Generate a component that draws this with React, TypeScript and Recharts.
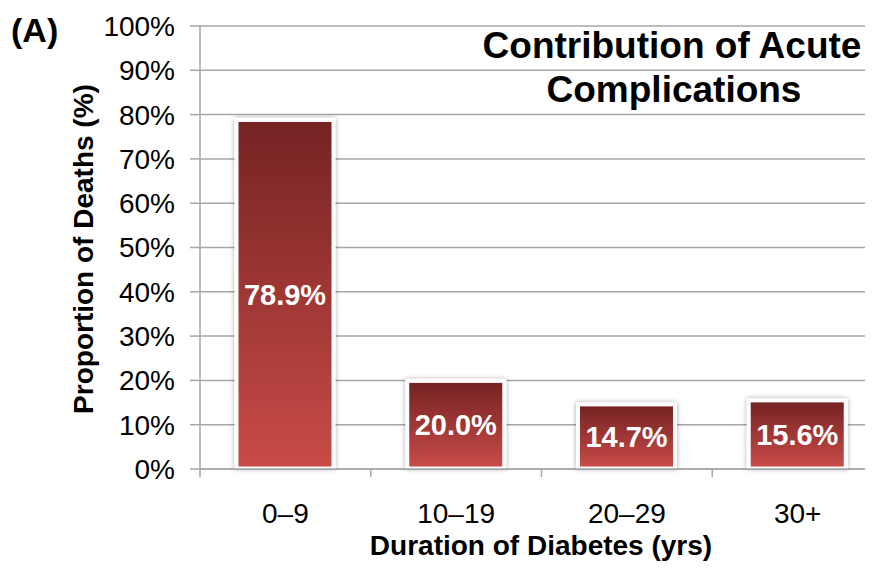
import { BarChart, Bar, XAxis, YAxis, CartesianGrid, LabelList } from 'recharts';

const durations = ['0–9', '10–19', '20–29', '30+'];
const acuteShare = [78.9, 20.0, 14.7, 15.6];
const yTicks = [0, 10, 20, 30, 40, 50, 60, 70, 80, 90, 100];

const data = durations.map((range, i) => ({ range, value: acuteShare[i] }));

const FONT = '"Liberation Sans", Arial, sans-serif';
const CHART_W = 900;
const CHART_H = 571;
const MARGIN = { top: 26, right: 17, bottom: 72, left: 0 };
const Y_AXIS_W = 200;
const CAT_W = (CHART_W - MARGIN.left - MARGIN.right - Y_AXIS_W) / durations.length;
const GRID = '#a6a6a6';

const BarShape = (props: any) => {
  const { x, y, width, height, index } = props;
  if (!height || height <= 0) return null;
  const id = `bar-${index}`;
  return (
    <g>
      <defs>
        <linearGradient id={`${id}-grad`} x1="0" y1="0" x2="0" y2="1">
          <stop offset="0%" stopColor="#752323" />
          <stop offset="100%" stopColor="#c84b47" />
        </linearGradient>
        <filter id={`${id}-shadow`} x="-30%" y="-30%" width="160%" height="160%">
          <feDropShadow dx="0" dy="0" stdDeviation="2.5" floodColor="#000" floodOpacity="0.35" />
        </filter>
      </defs>
      <rect
        x={x - 1.5}
        y={y - 1.5}
        width={width + 3}
        height={height + 1.5}
        fill="#fff"
        filter={`url(#${id}-shadow)`}
      />
      <rect
        x={x + 2.5}
        y={y + 2.5}
        width={width - 5}
        height={height - 5}
        fill={`url(#${id}-grad)`}
      />
    </g>
  );
};

const XTick = (props: any) => {
  const { x, y, payload } = props;
  return (
    <g>
      <line x1={x - CAT_W / 2} y1={y} x2={x - CAT_W / 2} y2={y + 8} stroke={GRID} strokeWidth={1.5} />
      <text x={x} y={y + 54} textAnchor="middle" fontSize={28} fontFamily={FONT} fill="#000">
        {payload.value}
      </text>
    </g>
  );
};

export default function App() {
  return (
    <div
      style={{
        position: 'relative',
        margin: -8,
        width: 866,
        height: CHART_H,
        overflow: 'hidden',
        background: '#fff',
        fontFamily: FONT,
      }}
    >
      <BarChart width={CHART_W} height={CHART_H} data={data} margin={MARGIN}>
        <CartesianGrid vertical={false} stroke={GRID} strokeWidth={1.5} />
        <YAxis
          width={Y_AXIS_W}
          domain={[0, 100]}
          ticks={yTicks}
          interval={0}
          tickFormatter={(v: number) => `${v}%`}
          axisLine={{ stroke: GRID, strokeWidth: 1.5 }}
          tickLine={{ stroke: GRID, strokeWidth: 1.5 }}
          tickSize={10}
          tickMargin={15}
          tick={{ fontSize: 28, fill: '#000', fontFamily: FONT }}
        />
        <XAxis
          dataKey="range"
          height={30}
          axisLine={{ stroke: GRID, strokeWidth: 1.5 }}
          tickLine={false}
          tickSize={0}
          tickMargin={0}
          interval={0}
          tick={<XTick />}
        />
        <Bar dataKey="value" barSize={98} shape={<BarShape />} isAnimationActive={false}>
          <LabelList
            dataKey="value"
            position="center"
            formatter={(v: any) => `${Number(v).toFixed(1)}%`}
            fill="#fff"
            fontSize={29}
            fontWeight="bold"
            fontFamily={FONT}
          />
        </Bar>
      </BarChart>
      <svg
        width={866}
        height={CHART_H}
        style={{ position: 'absolute', left: 0, top: 0, pointerEvents: 'none' }}
        fontFamily={FONT}
      >
        <text x={11} y={42} fontSize={34} fontWeight="bold" fill="#000">
          (A)
        </text>
        <text x={672} y={58} textAnchor="middle" fontSize={37} fontWeight="bold" fill="#000">
          Contribution of Acute
        </text>
        <text x={674} y={102} textAnchor="middle" fontSize={37} fontWeight="bold" fill="#000">
          Complications
        </text>
        <text
          x={93}
          y={249}
          textAnchor="middle"
          fontSize={28}
          fontWeight="bold"
          fill="#000"
          transform="rotate(-90, 93, 249)"
        >
          Proportion of Deaths (%)
        </text>
        <text x={541} y={555} textAnchor="middle" fontSize={28} fontWeight="bold" fill="#000">
          Duration of Diabetes (yrs)
        </text>
      </svg>
    </div>
  );
}
